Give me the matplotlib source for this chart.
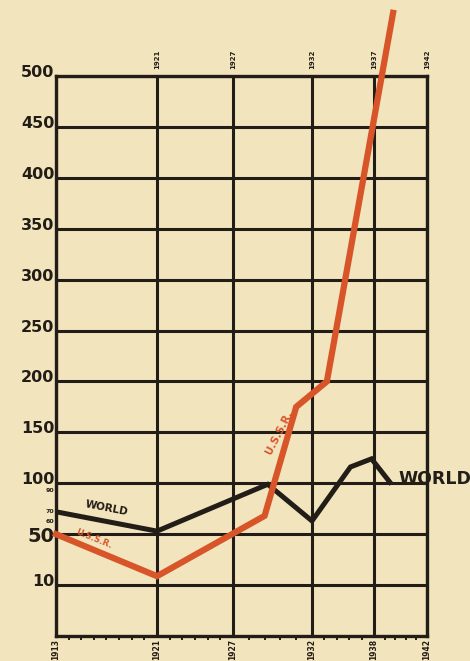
import matplotlib
matplotlib.use("Agg")
import matplotlib.pyplot as plt
import matplotlib.transforms as mtransforms
import numpy as np

# values (index numbers, years)
ussr_years = [1913, 1921, 1929, 1931, 1933.2, 1938.8]
ussr_vals = [50, 17, 68, 175, 200, 562]
world_years = [1913, 1921, 1929.2, 1932, 1935.1, 1936.8, 1938.5]
world_vals = [72, 53, 99, 63, 116, 124, 101]

bottom_years = [1913, 1921, 1927, 1932, 1937, 1942]
bottom_labels = ["1913", "1921", "1927", "1932", "1938", "1942"]
top_labels = ["", "1921", "1927", "1932", "1937", "1942"]
y_ticks = [10, 50, 100, 150, 200, 250, 300, 350, 400, 450, 500]
y_small = [60, 70, 90]

# the hand drawn scales are not even: map values onto drawn positions
x_pos = [56, 157, 233, 312, 374, 427]
v_knots = [0, 10, 50, 1000]
v_pos = [-50, 0, 50, 1000]

def xf(v):
    return np.interp(v, bottom_years, x_pos)

def xi(p):
    return np.interp(p, x_pos, bottom_years)

def yf(v):
    return np.interp(v, v_knots, v_pos)

def yi(p):
    return np.interp(p, v_pos, v_knots)

paper = "#f2e4bd"
ink = "#221d17"
red = "#d8552a"

fig = plt.figure(figsize=(4.70, 6.61), dpi=100, facecolor=paper)
ax = fig.add_axes([56/470, 1 - 636/661, (427-56)/470, (636-76)/661])
ax.set_facecolor(paper)
ax.set_xscale("function", functions=(xf, xi))
ax.set_yscale("function", functions=(yf, yi))
ax.set_xlim(1913, 1942)
ax.set_ylim(0, 500)

ax.set_xticks(bottom_years)
ax.set_xticklabels(bottom_labels, rotation=90, fontsize=5.5, fontweight="bold", color=ink)
ax.set_xticks(range(1914, 1942), minor=True)
ax.tick_params(axis="x", which="major", length=0, pad=2)
ax.tick_params(axis="x", which="minor", length=3, width=1.4, color=ink, direction="out")

ax.set_yticks(y_ticks)
ax.set_yticklabels([str(v) for v in y_ticks], fontsize=11.5, fontweight="heavy", color=ink)
ax.set_yticks(y_small, minor=True)
ax.set_yticklabels([str(v) for v in y_small], minor=True, fontsize=4.5, fontweight="bold", color=ink)
ax.tick_params(axis="y", which="both", length=0, pad=1)
up = mtransforms.ScaledTranslation(0, 5/100, fig.dpi_scale_trans)
for lab in ax.get_yticklabels():
    if lab.get_text() != "50":
        lab.set_transform(lab.get_transform() + up)
    else:
        lab.set_fontsize(14)
up_small = mtransforms.ScaledTranslation(0, 3/100, fig.dpi_scale_trans)
for lab in ax.get_yticklabels(minor=True):
    lab.set_transform(lab.get_transform() + up_small)

ax.grid(True, which="major", color=ink, linewidth=2.2)
ax.set_axisbelow(True)
for s in ax.spines.values():
    s.set_color(ink)
    s.set_linewidth(2.4)

# top year labels
tr = mtransforms.blended_transform_factory(ax.transData, ax.transAxes)
for yr, lab in zip(bottom_years, top_labels):
    ax.text(yr, 1.012, lab, transform=tr, rotation=90, ha="center", va="bottom",
            fontsize=5, fontweight="bold", color=ink)

ax.plot(world_years, world_vals, color=ink, linewidth=3.6, solid_joinstyle="miter", zorder=3)
ax.plot(ussr_years, ussr_vals, color=red, linewidth=4.5, solid_joinstyle="miter",
        clip_on=False, zorder=4)

ax.text(1917.0, 76, "WORLD", rotation=-11, ha="center", va="center",
        fontsize=7.5, fontweight="heavy", color=ink, zorder=5)
ax.text(1916.0, 46, "U.S.S.R.", rotation=-22, ha="center", va="center",
        fontsize=6, fontweight="bold", color=red, zorder=5)
ax.text(1929.9, 150, "U.S.S.R.", rotation=63, ha="center", va="center",
        fontsize=7.5, fontweight="heavy", color=red, zorder=5)
ax.text(1939.3, 104, "WORLD", ha="left", va="center", clip_on=False,
        fontsize=12.5, fontweight="heavy", color=ink, zorder=5)

fig.savefig("out.png", dpi=100, facecolor=paper)
